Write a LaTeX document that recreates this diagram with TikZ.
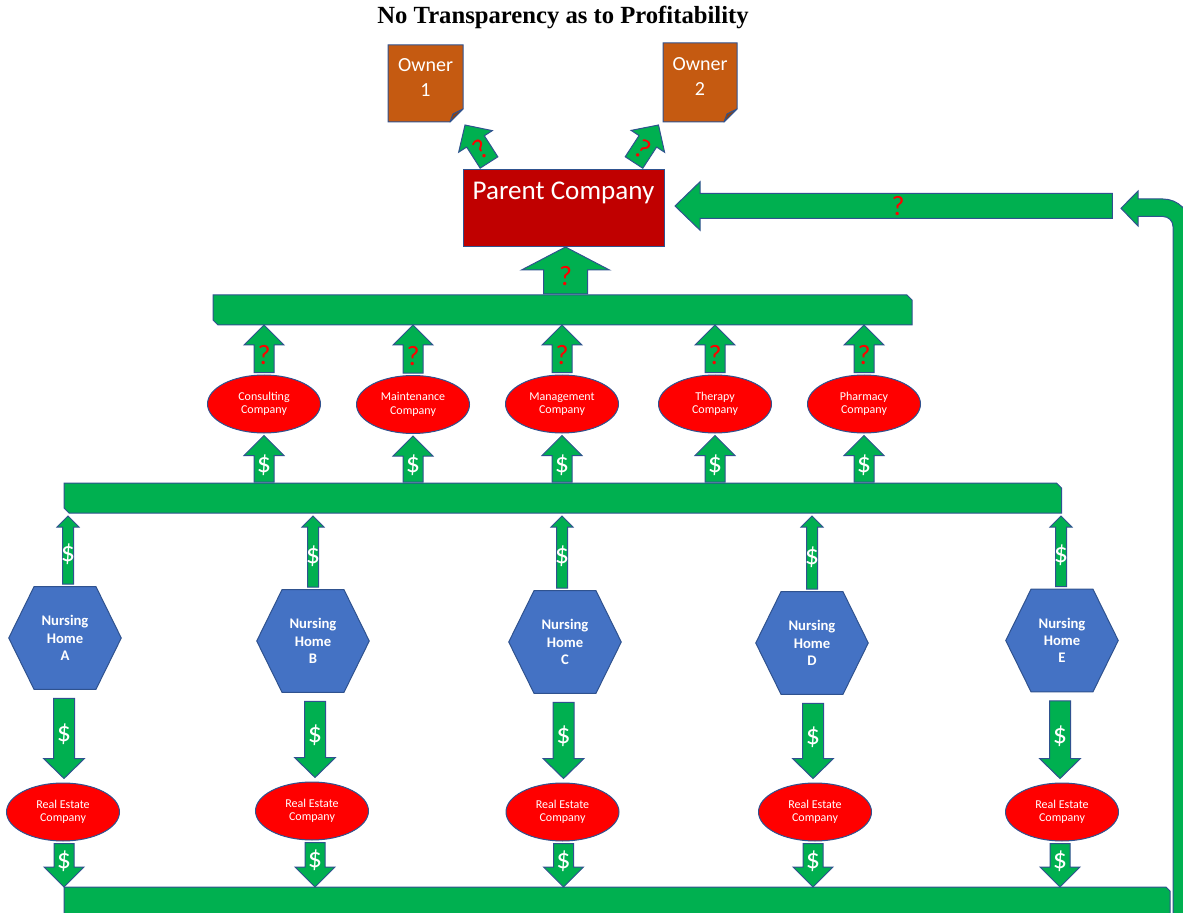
\documentclass[tikz,border=0pt]{standalone}
\usepackage{fontspec}
\setmainfont{Carlito}
\newfontfamily\titlefont{Liberation Serif}
\usetikzlibrary{calc,shapes.geometric,backgrounds}
\definecolor{ggreen}{HTML}{00B050}
\definecolor{gline}{HTML}{2F528F}
\definecolor{pred}{HTML}{C00000}
\definecolor{ored}{HTML}{FF0000}
\definecolor{orng}{HTML}{C55A11}
\definecolor{orngd}{HTML}{8E410C}
\definecolor{hblue}{HTML}{4472C4}
\tikzset{
  arrowshape/.style={fill=ggreen, draw=gline, line width=0.75pt, line join=miter},
  barshape/.style={fill=ggreen, draw=gline, line width=0.75pt},
  qmark/.style={text=ored, font=\fontsize{21}{21}\selectfont, inner sep=0pt},
  dollar/.style={text=white, font=\fontsize{21}{21}\selectfont, inner sep=0pt},
  coellipse/.style={ellipse, fill=ored, draw=gline, line width=0.75pt,
    minimum width=84.75pt, minimum height=43.5pt, inner sep=0pt,
    text=white, align=center, font=\fontsize{9}{10}\selectfont},
  hexnode/.style={minimum width=84pt, minimum height=76.5pt, inner sep=0pt,
    text=white, align=center, font=\bfseries\fontsize{11}{13}\selectfont},
  hexshape/.style={fill=hblue, draw=gline, line width=0.75pt},
  ownershape/.style={fill=orng, draw=gline, line width=0.75pt, line join=miter},
  ownertext/.style={text=white, align=center, inner sep=0pt,
    font=\fontsize{15}{18.75}\selectfont},
  ghost/.style={inner sep=0pt, outer sep=0pt},
}
\newcommand{\blockarrow}[5]{%
  \path ($(#2)!#5*0.75pt!(#1)$) coordinate (bah);
  \draw[arrowshape] ($(#1)!#3*0.75pt!90:(#2)$) -- ($(bah)!#3*0.75pt!90:(#2)$)
    -- ($(bah)!#4*0.75pt!90:(#2)$) -- (#2) -- ($(bah)!#4*0.75pt!-90:(#2)$)
    -- ($(bah)!#3*0.75pt!-90:(#2)$) -- ($(#1)!#3*0.75pt!-90:(#2)$) -- cycle;}
\begin{document}
\begin{tikzpicture}[x=0.75pt,y=-0.75pt]
\useasboundingbox (0,0) rectangle (1183,913);
\clip (0,0) rectangle (1183,913);

% title
\node[inner sep=0pt, font=\titlefont\bfseries\fontsize{18.5}{20}\selectfont] (title) at (563,17) {No Transparency as to Profitability};

% owners
\node[ghost, minimum width=56.25pt, minimum height=57.75pt] (owner1) at (425.5,83.5) {};
\node[ghost, minimum width=55.5pt, minimum height=59.25pt] (owner2) at (700,82.5) {};
\foreach \o in {owner1,owner2}{
  \draw[ownershape] (\o.north west) -- (\o.north east) -- ($(\o.south east)+(0,-13)$)
     -- ($(\o.south east)+(-13,0)$) -- (\o.south west) -- cycle;
  \draw[fill=orngd, draw=gline, line width=0.75pt, line join=round] ($(\o.south east)+(0,-13)$) -- ($(\o.south east)+(-13,0)$) -- ($(\o.south east)+(-10,-8)$) -- cycle;
}
\node[ownertext] (o1txt) at ($(owner1.center)+(0,-5.5)$) {Owner\\1};
\node[ownertext] (o2txt) at ($(owner2.center)+(0,-5.5)$) {Owner\\2};

% parent
\node[ghost, fill=pred, draw=gline, line width=0.75pt, minimum width=150.75pt, minimum height=57.75pt] (parent) at (563.5,208.5) {};
\node[text=white, inner sep=0pt, font=\fontsize{20.3}{22}\selectfont] (ptxt) at ($(parent.north)+(0,22.5)$) {Parent Company};

% bars
\node[ghost, minimum width=524.25pt, minimum height=22.5pt] (topbar) at (562.5,310) {};
\node[ghost, minimum width=748.125pt, minimum height=22.5pt] (midbar) at (562.75,498) {};
\node[ghost, minimum width=829.5pt, minimum height=39.75pt] (botbar) at (617,913.5) {};
\foreach \b in {topbar,midbar}{
  \draw[barshape] (\b.north west) -- ($(\b.north east)+(-5,0)$) -- ($(\b.north east)+(0,5)$)
    -- (\b.south east) -- ($(\b.south west)+(5,0)$) -- ($(\b.south west)+(0,-5)$) -- cycle;
}
\draw[barshape] (botbar.north west) -- ($(botbar.north east)+(-4,0)$) -- ($(botbar.north east)+(0,4)$)
  -- (botbar.south east) -- (botbar.south west) -- cycle;

% companies
\foreach \nm/\xx/\yy/\tt in {cons/264/404/Consulting, maint/413/404.5/Maintenance, mgmt/562/404/Management, ther/715/404/Therapy, pharm/864/404/Pharmacy}{
  \node[coellipse] (\nm) at (\xx,\yy) {\tt\\Company};
}
\foreach \nm in {cons,maint,mgmt,ther,pharm}{
  \path ($(\nm.north)+(0,-2)$) coordinate (qs\nm);
  \path (qs\nm |- topbar.south) coordinate (qt\nm);
  \blockarrow{qs\nm}{qt\nm}{10}{20}{20}
  \node[qmark] at ($(qs\nm)!0.36!(qt\nm)$) {?};
  \path (\nm.south |- midbar.north) ++(0,-1) coordinate (ms\nm);
  \path ($(\nm.south)+(0,2)$) coordinate (mt\nm);
  \blockarrow{ms\nm}{mt\nm}{10}{20}{20}
  \node[dollar] at ($(ms\nm)!0.36!(mt\nm)$) {\$};
}

% nursing homes and real estate
\foreach \nm/\hx/\hy/\rx/\ry in {A/65/638/63/812, B/313/641/312/811, C/565/642/562.5/812, D/812/643/815/812, E/1062/640.5/1062/812}{
  \node[hexnode] (nh\nm) at (\hx,\hy) {Nursing\\Home\\\nm};
  \node[coellipse] (re\nm) at (\rx,\ry) {Real Estate\\Company};
}
\begin{scope}[on background layer]
\foreach \nm in {A,B,C,D,E}{
  \draw[hexshape] (nh\nm.west) -- ($(nh\nm.north)+(-31,0)$) -- ($(nh\nm.north)+(31,0)$)
    -- (nh\nm.east) -- ($(nh\nm.south)+(31,0)$) -- ($(nh\nm.south)+(-31,0)$) -- cycle;
}
\end{scope}
\foreach \nm/\uof/\dof in {A/3/-1, B/0/2, C/-3/-1.5, D/0/1, E/-1/-2}{
  \path ($(nh\nm.north)+(\uof,-2.5)$) coordinate (us\nm);
  \path (us\nm |- midbar.south) ++(0,3) coordinate (ut\nm);
  \blockarrow{us\nm}{ut\nm}{5.5}{11}{11}
  \node[dollar] at ($(us\nm)!0.44!(ut\nm)$) {\$};
  \path ($(nh\nm.south)+(\dof,9)$) coordinate (ds\nm);
  \path (ds\nm |- re\nm.north) ++(0,-4) coordinate (dt\nm);
  \blockarrow{ds\nm}{dt\nm}{10.5}{20.5}{20}
  \node[dollar] at ($(ds\nm)!0.45!(dt\nm)$) {\$};
  \path (ds\nm |- re\nm.south) ++(0,2) coordinate (rs\nm);
  \path (rs\nm |- botbar.north) coordinate (rt\nm);
  \blockarrow{rs\nm}{rt\nm}{10}{20}{20}
  \node[dollar] at ($(rs\nm)!0.4!(rt\nm)$) {\$};
}

% parent up arrow
\path ($(topbar.north)+(3,-1)$) coordinate (ps);
\path (ps |- parent.south) coordinate (pt);
\blockarrow{ps}{pt}{22}{44}{23}
\node[qmark] at ($(ps)!0.38!(pt)$) {?};

% arrows to owners
\path ($(parent.north)+(-74.5,-7.5)$) coordinate (o1s);
\path ($(owner1.south east)+(2,3)$) coordinate (o1t);
\blockarrow{o1s}{o1t}{10.5}{20}{19.5}
\node[qmark, rotate=33] at ($(o1s)!0.36!(o1t)$) {?};
\path ($(parent.north)+(70.5,-7.5)$) coordinate (o2s);
\path ($(owner2.south west)+(-4.5,3)$) coordinate (o2t);
\blockarrow{o2s}{o2t}{10.5}{20}{19.5}
\node[qmark, rotate=-33] at ($(o2s)!0.36!(o2t)$) {?};

% horizontal arrow into parent
\path ($(parent.east)+(448.3,-2.5)$) coordinate (hs);
\path ($(parent.east)+(11,-2.5)$) coordinate (ht);
\blockarrow{hs}{ht}{12.5}{24.2}{25}
\node[qmark] at ($(hs)!0.49!(ht)$) {?};

% bent return arrow from bottom bar
\coordinate (bentbase) at ($(botbar.north east)+(3,60)$);
\draw[arrowshape] (bentbase) -- (1173,226.5)
  .. controls (1173,220.98) and (1168.52,216.5) .. (1163,216.5)
  -- (1138,216.5) -- (1138,226) -- (1121,208.3) -- (1138,191) -- (1138,199)
  -- (1163,199) .. controls (1178.18,199) and (1190.5,211.32) .. (1190.5,226.5)
  -- (1190.5,950) -- cycle;
\end{tikzpicture}
\end{document}
